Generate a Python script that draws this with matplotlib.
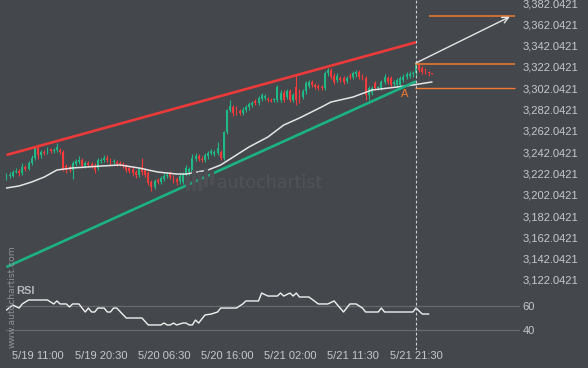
import matplotlib
matplotlib.use("Agg")
import matplotlib.pyplot as plt
from matplotlib.patches import Rectangle

plt.rcParams['font.family'] = ['Liberation Sans', 'DejaVu Sans']

# ---------------- data (30-minute candles) ----------------
opens = [3218, 3220, 3220, 3223, 3224, 3222, 3228, 3226, 3232, 3237,
         3246, 3239, 3242, 3241, 3245, 3243, 3244, 3244, 3242, 3229,
         3228, 3225, 3231, 3233, 3235, 3229, 3232, 3231, 3230, 3227,
         3234, 3235, 3237, 3235, 3233, 3233, 3232, 3231, 3229, 3227,
         3226, 3223, 3221, 3228, 3225, 3222, 3214, 3209, 3216, 3214,
         3217, 3220, 3222, 3219, 3217, 3215, 3214, 3221, 3223, 3223,
         3236, 3238, 3236, 3235, 3238, 3241, 3240, 3241, 3242, 3237,
         3261, 3282, 3284, 3283, 3281, 3279, 3282, 3284, 3286, 3290,
         3288, 3292, 3293, 3292, 3291, 3291, 3291, 3291, 3298, 3294,
         3299, 3291, 3303, 3299, 3294, 3299, 3304, 3308, 3305, 3304,
         3303, 3302, 3316, 3319, 3314, 3310, 3312, 3312, 3309, 3314,
         3313, 3315, 3317, 3313, 3312, 3296, 3298, 3307, 3302, 3302,
         3308, 3312, 3312, 3306, 3305, 3305, 3310, 3313, 3314, 3315,
         3316, 3324, 3321, 3319, 3317, 3316]
closes = [3220, 3221, 3223, 3224, 3222, 3228, 3226, 3232, 3237, 3246,
          3239, 3242, 3241, 3245, 3243, 3244, 3247, 3242, 3226, 3225,
          3225, 3232, 3234, 3235, 3229, 3232, 3230, 3229, 3225, 3235,
          3235, 3237, 3235, 3232, 3234, 3231, 3231, 3229, 3225, 3224,
          3222, 3221, 3226, 3223, 3221, 3213, 3209, 3215, 3214, 3218,
          3220, 3221, 3219, 3215, 3214, 3220, 3221, 3227, 3226, 3237,
          3238, 3236, 3235, 3239, 3241, 3243, 3242, 3246, 3237, 3261,
          3282, 3285, 3279, 3279, 3279, 3282, 3284, 3287, 3288, 3288,
          3293, 3296, 3295, 3291, 3290.5, 3291.5, 3303, 3298, 3291, 3299,
          3291, 3296, 3291, 3291, 3299, 3307, 3308, 3305, 3303, 3302,
          3302, 3316, 3319, 3313, 3308, 3314, 3310, 3308, 3312, 3313,
          3316, 3317, 3313, 3312, 3296, 3302, 3302, 3302, 3303, 3308,
          3313, 3308, 3305, 3308, 3310, 3312, 3313, 3315, 3315, 3316,
          3326, 3319, 3317, 3317, 3316, 3315.5]
highs = [3222, 3223, 3225, 3227, 3226, 3232, 3230, 3234, 3239, 3248,
         3250, 3244, 3244, 3247, 3246, 3246, 3251, 3246, 3244, 3231,
         3230, 3234, 3236, 3238, 3237, 3234, 3234, 3233, 3232, 3237,
         3237, 3239, 3239, 3237, 3236, 3235, 3234, 3233, 3231, 3229,
         3228, 3225, 3228, 3237, 3227, 3224, 3216, 3217, 3218, 3220,
         3222, 3223, 3224, 3221, 3219, 3222, 3223, 3230, 3228, 3240,
         3241, 3240, 3238, 3241, 3243, 3245, 3244, 3252, 3244, 3262,
         3283, 3291, 3286, 3285, 3283, 3284, 3286, 3289, 3290, 3292,
         3295, 3298, 3297, 3294, 3293, 3293, 3305, 3300, 3300, 3301,
         3301, 3298, 3315, 3301, 3301, 3309, 3310, 3310, 3307, 3306,
         3305, 3318, 3321, 3321, 3316, 3316, 3314, 3314, 3314, 3316,
         3318, 3319, 3319, 3315, 3314, 3304, 3304, 3309, 3304, 3310,
         3315, 3314, 3314, 3310, 3312, 3314, 3315, 3317, 3318, 3318,
         3327, 3326, 3323, 3321, 3318, 3316.5]
lows = [3216, 3218, 3219, 3222, 3220, 3221, 3224, 3225, 3230, 3235,
        3236, 3237, 3239, 3240, 3241, 3241, 3242, 3240, 3224, 3222,
        3223, 3217, 3229, 3231, 3227, 3227, 3228, 3227, 3222, 3225,
        3232, 3233, 3233, 3230, 3231, 3229, 3229, 3227, 3223, 3222,
        3220, 3218, 3219, 3221, 3219, 3211, 3206, 3207, 3212, 3212,
        3215, 3218, 3217, 3213, 3211, 3212, 3212, 3219, 3221, 3221,
        3234, 3234, 3233, 3233, 3236, 3239, 3238, 3239, 3235, 3235,
        3259, 3280, 3276, 3277, 3277, 3277, 3280, 3282, 3284, 3286,
        3286, 3290, 3291, 3289, 3289, 3289, 3289, 3289, 3289, 3292,
        3289, 3289, 3286, 3288, 3292, 3297, 3302, 3303, 3301, 3300,
        3300, 3300, 3314, 3311, 3306, 3308, 3308, 3306, 3307, 3311,
        3311, 3313, 3311, 3310, 3291, 3291, 3296, 3300, 3300, 3300,
        3306, 3306, 3303, 3304, 3303, 3303, 3308, 3311, 3312, 3313,
        3314, 3317, 3315, 3315, 3314, 3315]

# moving average (read at sampled candles)
ma_idx = [0, 4, 8, 12, 16, 21, 30, 36, 42, 48, 54, 57, 64, 68, 72, 77,
          83, 88, 93, 100, 103, 110, 116, 124, 129, 135]
ma_val = [3208.4, 3210.3, 3214.0, 3218.7, 3225.3, 3227.2, 3229.0, 3230.0,
          3227.2, 3223.4, 3221.5, 3221.5, 3225.3, 3230.0, 3237.5, 3246.9,
          3256.3, 3267.5, 3274.1, 3284.4, 3289.1, 3293.8, 3300.4, 3303.2,
          3305.1, 3307.9]

# RSI (read at sampled candles)
rsi_idx = [0, 2, 4, 5, 7, 13, 15, 16, 17, 19, 20, 21, 23, 24, 25, 26, 27,
           28, 29, 31, 32, 33, 34, 35, 38, 43, 45, 49, 50, 51, 52, 53, 54,
           56, 57, 58, 59, 60, 61, 63, 65, 67, 68, 73, 75, 76, 80, 81, 83,
           86, 87, 88, 90, 91, 92, 93, 96, 99, 102, 104, 107, 109, 111, 113,
           114, 118, 119, 120, 129, 130, 132, 134]
rsi_val = [56.7, 60.8, 58.3, 61.7, 65.0, 65.0, 61.7, 64.2, 61.7, 61.7, 59.2,
           61.7, 61.7, 58.3, 55.0, 58.3, 55.0, 55.0, 58.3, 58.3, 55.0, 55.0,
           58.3, 58.3, 50.0, 50.0, 44.2, 44.2, 45.8, 44.2, 44.2, 45.8, 44.2,
           45.8, 45.8, 44.2, 44.2, 48.3, 45.8, 52.5, 53.3, 55.0, 58.3, 58.3,
           61.7, 64.2, 64.2, 70.8, 68.3, 68.3, 70.8, 68.3, 70.8, 68.3, 70.8,
           67.5, 67.5, 61.7, 61.7, 64.2, 55.0, 61.7, 61.7, 58.3, 55.0, 55.0,
           58.3, 55.0, 55.0, 58.3, 53.3, 53.3]

# channel (rising wedge) lines
upper_x = [0, 130]
upper_y = [3239.4, 3345.2]
lower_x = [0, 130]
lower_y = [3134.2, 3308.5]

# projection
signal_idx = 130
arrow_start = (130, 3325.8)
arrow_end = (159.8, 3369.2)
target_level = 3369.9
resist_level = 3324.8
support_level = 3302.3
level_end = 161.4
target_start = 134.1
point_a = (126.5, 3296.6)

price_ticks = [3122.0421 + 20 * k for k in range(14)]
tick_idx = [10, 30, 50, 70, 90, 110, 130]
tick_lab = ['5/19 11:00', '5/19 20:30', '5/20 06:30', '5/20 16:00',
            '5/21 02:00', '5/21 11:30', '5/21 21:30']

# ---------------- style ----------------
BG = '#44474c'
UP = '#20b985'
DN = '#f23b3b'
RED_LINE = '#ec3a3a'
GREEN_LINE = '#1cb383'
ORANGE = '#f37a30'
TXT = '#c6c8cb'

W, H = 588, 368
fig = plt.figure(figsize=(W / 100, H / 100), dpi=100, facecolor=BG)


def px_axes(x0, y0, x1, y1):
    return fig.add_axes([x0 / W, 1 - y1 / H, (x1 - x0) / W, (y1 - y0) / H])


def xi(px):
    return (px - 6.5) / 3.15


def prc(py):
    return 3322.0 - (py - 67) * 0.939


def rs(py):
    return 60 - (py - 306) / 1.2


ax = px_axes(6, 0, 520, 288)
ar = px_axes(6, 288, 520, 350)
for a in (ax, ar):
    a.set_facecolor(BG)
    for s in a.spines.values():
        s.set_visible(False)
    a.set_xlim(xi(6), xi(520))
    a.tick_params(length=0, colors=TXT, labelsize=8)
    a.yaxis.tick_right()

ax.set_ylim(prc(288), prc(0))
ar.set_ylim(rs(350), rs(288))

# watermark
fig.text(217 / W, 1 - 183 / H, 'autochartist', fontsize=12.5, color='#505358',
         family='DejaVu Sans', va='center', ha='left', zorder=0)
for bx, by0, by1 in [(186, 176, 190), (192, 170, 190), (198, 172, 190), (204, 168, 186), (210, 172, 184)]:
    fig.patches.append(Rectangle((bx / W, 1 - by1 / H), 3 / W, (by1 - by0) / H,
                                 transform=fig.transFigure, color='#4c4f54', zorder=0))

# candles
n = len(closes)
idx = list(range(n))
cols = [UP if c >= o else DN for o, c in zip(opens, closes)]
ax.vlines(idx, lows, highs, colors=cols, linewidth=0.8, zorder=3)
bottoms = [min(o, c) for o, c in zip(opens, closes)]
heights = [max(abs(c - o), 0.7) for o, c in zip(opens, closes)]
ax.bar(idx, heights, bottom=bottoms, width=0.6, color=cols, linewidth=0, zorder=4)

# moving average
ax.plot(ma_idx, ma_val, color='#e4e4e4', lw=1.1, zorder=5)

# channel lines
ax.plot(upper_x, upper_y, color=RED_LINE, lw=1.9, zorder=6, solid_capstyle='butt')
ax.plot(lower_x, lower_y, color=GREEN_LINE, lw=1.9, zorder=6, solid_capstyle='butt')

# levels
ax.hlines(target_level, target_start, level_end, color=ORANGE, lw=1.1, zorder=6)
ax.hlines(resist_level, signal_idx - 0.3, level_end, color=ORANGE, lw=1.1, zorder=6)
ax.hlines(support_level, signal_idx - 0.3, level_end, color=ORANGE, lw=1.0, zorder=6)
ax.annotate('', xy=arrow_end, xytext=arrow_start,
            arrowprops=dict(arrowstyle='->', color='#e6e6e6', lw=1.0,
                            mutation_scale=11, shrinkA=0, shrinkB=0), zorder=7)
ax.text(point_a[0], point_a[1], 'A', color=ORANGE, fontsize=8, ha='center', va='center', zorder=7)

# signal vertical dashed line
for a in (ax, ar):
    a.axvline(signal_idx, color='#cfd0d2', lw=0.8, dashes=(2.5, 2), zorder=8)

ax.set_yticks(price_ticks)
ax.set_yticklabels([f'{v:,.4f}' for v in price_ticks])
ax.tick_params(axis='y', pad=2)
ax.set_xticks([])

# RSI panel
ar.set_yticks([40, 60])
ar.set_yticklabels(['40', '60'])
ar.tick_params(axis='y', pad=2)
for lvl in (40, 60):
    ar.axhline(lvl, color='#65686d', lw=0.9, zorder=1)
ar.plot(rsi_idx, rsi_val, color='#f0f0f0', lw=1.0, zorder=5)
ar.set_xticks(tick_idx)
ar.set_xticklabels(tick_lab)
ar.tick_params(axis='x', pad=1)
ar.text(xi(16.5), rs(291), 'RSI', color='#b5b7ba', fontsize=8, fontweight='bold',
        ha='left', va='center')

fig.text(12.5 / W, 1 - 297 / H, 'www.autochartist.com', rotation=90, color='#8e9196',
         fontsize=6.6, family='DejaVu Sans', ha='center', va='center')

fig.savefig('out.png', dpi=100, facecolor=BG)
